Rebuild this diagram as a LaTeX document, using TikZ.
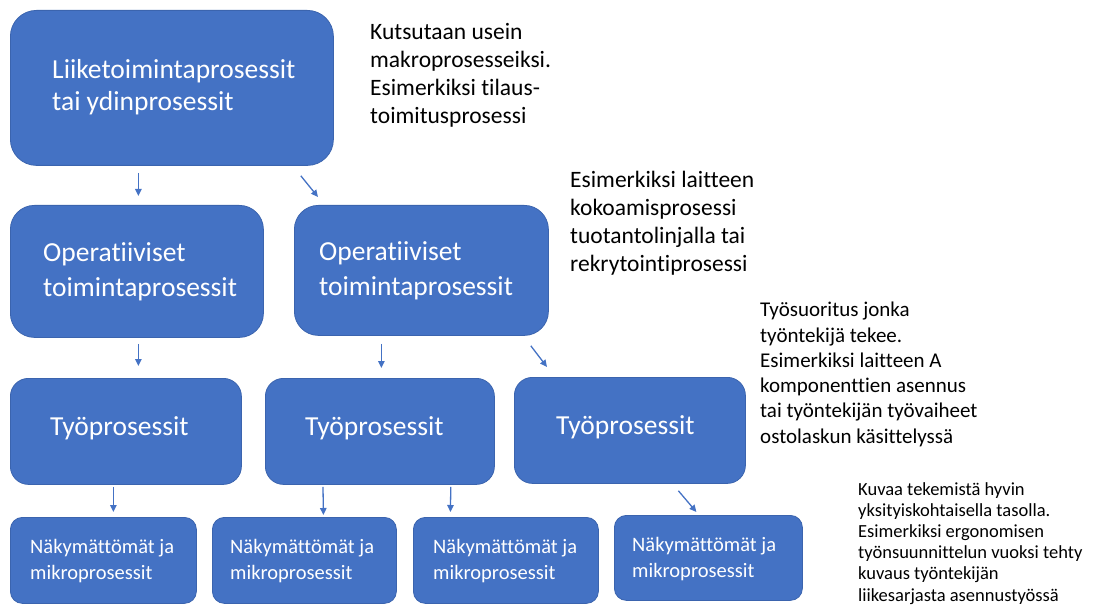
\documentclass[tikz,border=0pt]{standalone}
\usepackage{fontspec}
\setmainfont{Carlito}[Ligatures={NoCommon}]
\usetikzlibrary{arrows.meta,calc}
\definecolor{boxblue}{HTML}{4472C4}
\definecolor{boxedge}{HTML}{3B64AE}
\begin{document}
\begin{tikzpicture}[x=1pt,y=-1pt,
  procbox/.style={draw=boxedge, line width=0.8pt, fill=boxblue, anchor=north west, inner sep=0pt},
  boxlabel/.style={text=white, align=left, anchor=west, inner sep=0pt},
  big/.style={font=\fontsize{27.5}{32}\selectfont},
  mid/.style={font=\fontsize{27.5}{35}\selectfont},
  small/.style={font=\fontsize{20.5}{26}\selectfont},
  note/.style={align=left, anchor=north west, inner sep=0pt, text=black},
  arr/.style={draw=boxblue, line width=1.3pt, -{Triangle[length=7pt,width=6.5pt]}}]
\useasboundingbox (0,0) rectangle (1095,612);

% top level
\node[procbox, minimum width=323pt, minimum height=155pt, rounded corners=26pt] (lt) at (10,10) {};
\node[boxlabel, big] (ltt) at ($(lt.west)+(42,-1)$) {Liiketoimintaprosessit\\tai ydinprosessit};

% operational level
\node[procbox, minimum width=253pt, minimum height=132pt, rounded corners=24pt] (op1) at (10,205) {};
\node[procbox, minimum width=254pt, minimum height=130pt, rounded corners=24pt] (op2) at (294,205) {};
\node[boxlabel, mid] (op1t) at ($(op1.west)+(33,0)$) {Operatiiviset\\toimintaprosessit};
\node[boxlabel, mid] (op2t) at ($(op2.west)+(25,0)$) {Operatiiviset\\toimintaprosessit};

% work processes
\node[procbox, minimum width=231pt, minimum height=106pt, rounded corners=18pt] (t1) at (10,378) {};
\node[procbox, minimum width=229pt, minimum height=106pt, rounded corners=18pt] (t2) at (265,378) {};
\node[procbox, minimum width=231pt, minimum height=106pt, rounded corners=18pt] (t3) at (514,377) {};
\node[boxlabel, mid] (t1t) at ($(t1.west)+(40,-3)$) {Työprosessit};
\node[boxlabel, mid] (t2t) at ($(t2.west)+(40,-3)$) {Työprosessit};
\node[boxlabel, mid] (t3t) at ($(t3.west)+(42,-3)$) {Työprosessit};

% micro processes
\node[procbox, minimum width=186pt, minimum height=86pt, rounded corners=12pt] (n1) at (10,517) {};
\node[procbox, minimum width=184pt, minimum height=86pt, rounded corners=12pt] (n2) at (212,517) {};
\node[procbox, minimum width=185pt, minimum height=86pt, rounded corners=12pt] (n3) at (413,517) {};
\node[procbox, minimum width=188pt, minimum height=85pt, rounded corners=12pt] (n4) at (614,515) {};
\node[boxlabel, small] (n1t) at ($(n1.west)+(20,1)$) {Näkymättömät ja\\mikroprosessit};
\node[boxlabel, small] (n2t) at ($(n2.west)+(18,1)$) {Näkymättömät ja\\mikroprosessit};
\node[boxlabel, small] (n3t) at ($(n3.west)+(20,1)$) {Näkymättömät ja\\mikroprosessit};
\node[boxlabel, small] (n4t) at ($(n4.west)+(18,1)$) {Näkymättömät ja\\mikroprosessit};

% connectors
\draw[arr] ($(lt.south)+(-33.5,7)$) -- ($(op1.north)+(1.5,-9)$);
\draw[arr] ($(lt.south east)+(-33,10)$) -- ($(op2.north west)+(24,-8)$);
\draw[arr] ($(op1.south)+(1.5,6)$) -- ($(t1.north)+(12.5,-12)$);
\draw[arr] ($(op2.south)+(-40,8)$) -- ($(t2.north)+(1.5,-10)$);
\draw[arr] ($(op2.south east)+(-18,10)$) -- ($(t3.north west)+(33,-10)$);
\draw[arr] ($(t1.south)+(-12.5,2)$) -- ($(n1.north)+(10,-5)$);
\draw[arr] ($(t2.south west)+(58,2)$) -- ($(n2.north)+(19,-2)$);
\draw[arr] ($(t2.south east)+(-44,2)$) -- ($(n3.north)+(-55.5,-5)$);
\draw[arr] ($(t3.south)+(48.5,7)$) -- ($(n4.north)+(-12,-3)$);

% explanatory notes
\node[note, font=\fontsize{23.5}{28}\selectfont] (c1) at (370,23)
  {Kutsutaan usein\\makroprosesseiksi.\\Esimerkiksi tilaus-\\toimitusprosessi};
\node[note, font=\fontsize{23.5}{28}\selectfont] (c2) at (570,171)
  {Esimerkiksi laitteen\\kokoamisprosessi\\tuotantolinjalla tai\\rekrytointiprosessi};
\node[note, font=\fontsize{21}{25.3}\selectfont] (c3) at (760,302)
  {Työsuoritus jonka\\työntekijä tekee.\\Esimerkiksi laitteen A\\komponenttien asennus\\tai työntekijän työvaiheet\\ostolaskun käsittelyssä};
\node[note, font=\fontsize{18.5}{21.2}\selectfont] (c4) at (858,482)
  {Kuvaa tekemistä hyvin\\yksityiskohtaisella tasolla.\\Esimerkiksi ergonomisen\\työnsuunnittelun vuoksi tehty\\kuvaus työntekijän\\liikesarjasta asennustyössä};
\end{tikzpicture}
\end{document}
